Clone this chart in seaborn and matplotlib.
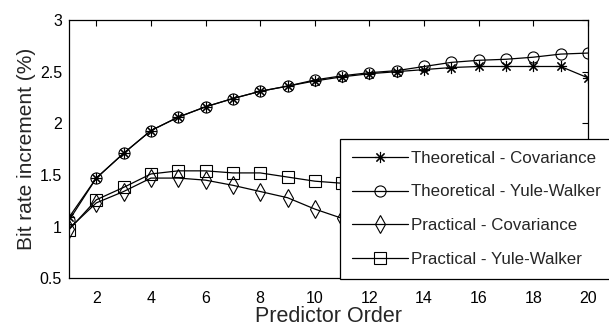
import numpy as np
import pandas as pd
import seaborn as sns
import matplotlib.pyplot as plt

# Veri
orders = list(range(1, 21))
theo_cov = [1.09, 1.47, 1.71, 1.93, 2.06, 2.16, 2.24, 2.31, 2.36, 2.41,
            2.45, 2.48, 2.50, 2.52, 2.54, 2.55, 2.55, 2.55, 2.55, 2.44]
theo_yw = [1.06, 1.47, 1.71, 1.93, 2.06, 2.16, 2.24, 2.31, 2.36, 2.42,
           2.46, 2.49, 2.51, 2.55, 2.59, 2.61, 2.62, 2.64, 2.67, 2.68]
prac_cov = [0.98, 1.23, 1.34, 1.47, 1.47, 1.45, 1.40, 1.34, 1.28, 1.17,
            1.08, 0.98, 0.86, 0.70, 0.52, 0.33, 0.12, -0.10, -0.35, -0.60]
prac_yw = [0.97, 1.26, 1.38, 1.51, 1.54, 1.54, 1.52, 1.52, 1.48, 1.44,
           1.42, 1.40, 1.37, 1.34, 1.30, 1.26, 1.21, 1.16, 1.10, 1.03]
series_names = ["Theoretical - Covariance", "Theoretical - Yule-Walker",
                "Practical - Covariance", "Practical - Yule-Walker"]
x_ticks = [2, 4, 6, 8, 10, 12, 14, 16, 18, 20]
y_ticks = [0.5, 1, 1.5, 2, 2.5, 3]
y_tick_labels = ["0.5", "1", "1.5", "2", "2.5", "3"]

# Genel ayarlar
sns.set_style("white")
plt.rcParams["font.family"] = ["Liberation Sans", "DejaVu Sans"]

fig = plt.figure(figsize=(6.09, 3.28), dpi=100)
ax = fig.add_axes([69 / 609, 49.7 / 328, 519 / 609, 258.3 / 328])

markers = [(8, 2, 0), "o", "d", "s"]
values = [theo_cov, theo_yw, prac_cov, prac_yw]
for name, vals, mk in zip(series_names, values, markers):
    df = pd.DataFrame({"order": orders, "val": vals})
    sns.lineplot(data=df, x="order", y="val", ax=ax, color="k", lw=0.9,
                 marker=mk, markersize=8 if mk != "d" else 9,
                 mec="k", mfc="none", mew=0.8, label=name, legend=False)

ax.set_xlim(1, 20)
ax.set_ylim(0.5, 3)
ax.set_xticks(x_ticks)
ax.set_yticks(y_ticks)
ax.set_yticklabels(y_tick_labels)
ax.tick_params(direction="in", top=True, right=True, length=4, width=0.8,
               labelsize=11.5, colors="k")
ax.tick_params(axis="x", pad=9)
ax.tick_params(axis="y", pad=5)
for sp in ax.spines.values():
    sp.set_color("k")
    sp.set_linewidth(0.9)

ax.set_xlabel("Predictor Order", fontsize=15.5, labelpad=0)
ax.set_ylabel("Bit rate increment (%)", fontsize=15, labelpad=3)

leg = ax.legend(loc="upper left", bbox_to_anchor=(340 / 609, 189 / 328),
                bbox_transform=fig.transFigure, borderaxespad=0,
                fontsize=12.2, frameon=True, fancybox=False, framealpha=1,
                edgecolor="k", handlelength=3.3, handletextpad=0.2,
                labelspacing=1.1, borderpad=0.7)
leg.get_frame().set_linewidth(0.9)

plt.savefig("out.png", dpi=100)
plt.close()
